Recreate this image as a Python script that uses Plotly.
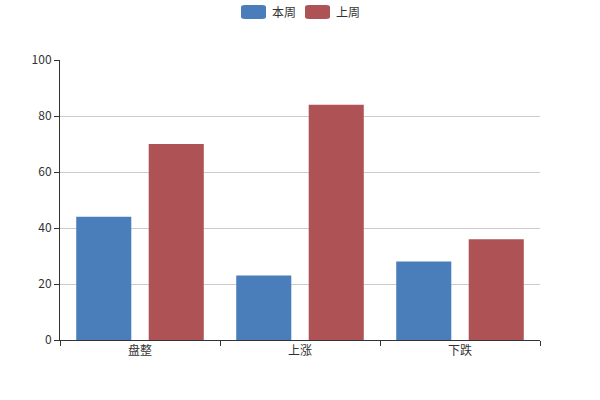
import plotly.graph_objects as go

categories = ["盘整", "上涨", "下跌"]
this_week = [44, 23, 28]
last_week = [70, 84, 36]
series_names = ["本周", "上周"]
colors = ["#4a7ebb", "#ae5256"]
y_ticks = [0, 20, 40, 60, 80, 100]

font_family = "Noto Sans CJK SC, Microsoft YaHei, sans-serif"

fig = go.Figure()
for name, vals, c in zip(series_names, [this_week, last_week], colors):
    fig.add_trace(go.Bar(x=categories, y=vals, name=name, marker=dict(color=c, line=dict(width=0)),
                         showlegend=False, hoverinfo="skip"))

# manual legend (rounded rectangles like ECharts)
def rounded_rect(x0, y0, x1, y1, r):
    return (f"M {x0+r},{y0} L {x1-r},{y0} Q {x1},{y0} {x1},{y0+r} L {x1},{y1-r} Q {x1},{y1} {x1-r},{y1} "
            f"L {x0+r},{y1} Q {x0},{y1} {x0},{y1-r} L {x0},{y0+r} Q {x0},{y0} {x0+r},{y0} Z")

W, H = 600, 400
ml, mr, mt, mb = 60, 60, 60, 60
pw, ph = W - ml - mr, H - mt - mb

def px(x):
    return (x - ml) / pw

def py(y):
    return 1 - (y - mt) / ph

shapes = []
annotations = []
legend_x = [241, 305]
for lx, name, c in zip(legend_x, series_names, colors):
    shapes.append(dict(type="path", xref="paper", yref="paper",
                       path=rounded_rect(px(lx), py(19), px(lx + 25), py(5), 0.008),
                       fillcolor=c, line=dict(width=0)))
    annotations.append(dict(x=px(lx + 29), y=py(12), xref="paper", yref="paper", text=name,
                            showarrow=False, xanchor="left", yanchor="middle",
                            font=dict(size=12, color="#333", family=font_family)))

fig.update_layout(
    width=W, height=H,
    margin=dict(l=ml, r=mr, t=mt, b=mb, autoexpand=False),
    paper_bgcolor="white", plot_bgcolor="white",
    barmode="group", bargap=0.094, bargroupgap=0.24,
    font=dict(family=font_family, size=12, color="#333"),
    shapes=shapes, annotations=annotations,
    xaxis=dict(showline=True, linecolor="#333", linewidth=1, ticks="outside", ticklen=5,
               tickcolor="#333", tickson="boundaries", showgrid=False, zeroline=False,
               tickfont=dict(size=12, color="#333")),
    yaxis=dict(range=[0, 100], tickvals=y_ticks, showline=True, linecolor="#333", linewidth=1,
               ticks="outside", ticklen=5, tickcolor="#333", showgrid=True, gridcolor="#ccc",
               zeroline=False, tickfont=dict(size=12, color="#333")),
)

fig.write_html("out.html", config={"displayModeBar": False, "staticPlot": True})

with open("out.html", "r", encoding="utf-8") as f:
    html = f.read()
html = html.replace("<head>", "<head><style>html,body{margin:0;padding:0;}</style>", 1)
with open("out.html", "w", encoding="utf-8") as f:
    f.write(html)
